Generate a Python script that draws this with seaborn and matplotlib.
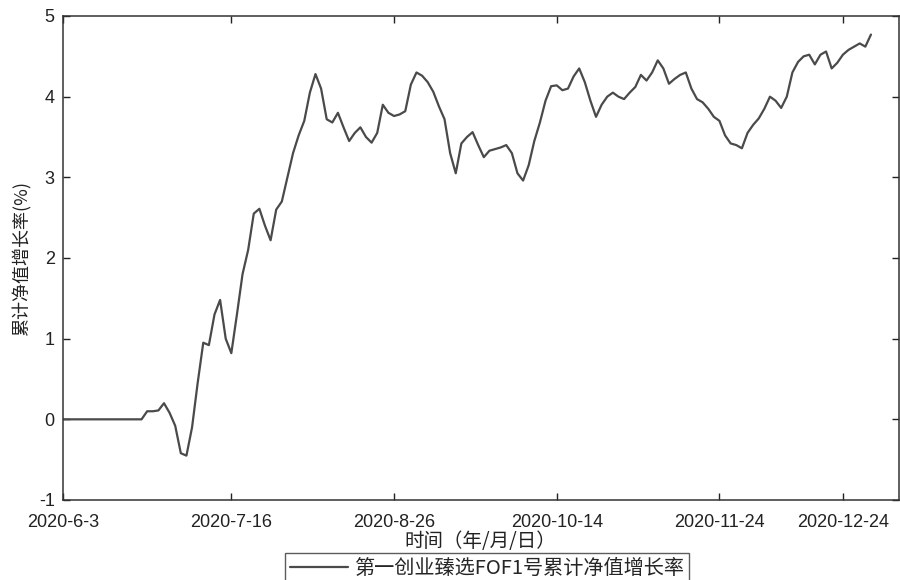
import numpy as np
import pandas as pd
import matplotlib
matplotlib.use("Agg")
import matplotlib.pyplot as plt
import seaborn as sns

# ---- data (cumulative NAV growth, %, one value per trading day) ----
growth = [
    0.00, 0.00, 0.00, 0.00, 0.00, 0.00, 0.00, 0.00, 0.00, 0.00,
    0.00, 0.00, 0.00, 0.00, 0.00, 0.10, 0.10, 0.11, 0.20, 0.08,
    -0.08, -0.42, -0.45, -0.10, 0.45, 0.95, 0.92, 1.30, 1.48, 1.00,
    0.82, 1.30, 1.80, 2.10, 2.55, 2.61, 2.40, 2.22, 2.60, 2.70,
    3.00, 3.30, 3.52, 3.70, 4.05, 4.28, 4.10, 3.72, 3.68, 3.80,
    3.62, 3.45, 3.55, 3.62, 3.50, 3.43, 3.55, 3.90, 3.80, 3.76,
    3.78, 3.82, 4.15, 4.30, 4.26, 4.18, 4.06, 3.88, 3.72, 3.30,
    3.05, 3.42, 3.50, 3.56, 3.40, 3.25, 3.33, 3.35, 3.37, 3.40,
    3.30, 3.05, 2.96, 3.15, 3.45, 3.68, 3.95, 4.13, 4.14, 4.08,
    4.10, 4.25, 4.35, 4.18, 3.95, 3.75, 3.90, 4.00, 4.05, 4.00,
    3.97, 4.05, 4.12, 4.27, 4.20, 4.30, 4.45, 4.35, 4.16, 4.22,
    4.27, 4.30, 4.10, 3.97, 3.93, 3.85, 3.75, 3.70, 3.52, 3.42,
    3.40, 3.36, 3.55, 3.65, 3.73, 3.85, 4.00, 3.95, 3.86, 4.00,
    4.30, 4.43, 4.50, 4.52, 4.40, 4.52, 4.56, 4.35, 4.42, 4.52,
    4.58, 4.62, 4.66, 4.62, 4.77,
]
day_index = list(range(len(growth)))

tick_days = [0, 30, 59, 88, 117, 139]
tick_labels = ["2020-6-3", "2020-7-16", "2020-8-26", "2020-10-14", "2020-11-24", "2020-12-24"]
y_ticks = [-1, 0, 1, 2, 3, 4, 5]

series_name = "第一创业臻选FOF1号累计净值增长率"
x_title = "时间（年/月/日）"
y_title = "累计净值增长率(%)"

df = pd.DataFrame({"day": day_index, "growth": growth})

# ---- style ----
sns.set_theme(style="ticks")
plt.rcParams["font.family"] = ["Liberation Sans", "Noto Sans CJK SC", "DejaVu Sans"]

fig = plt.figure(figsize=(9, 5.8), dpi=100)
ax = fig.add_axes([63 / 900, 1 - 500 / 580, (899 - 63) / 900, (500 - 16) / 580])

sns.lineplot(data=df, x="day", y="growth", ax=ax, color="#4a4a4a",
             linewidth=1.6, label=series_name, legend=False)

ax.set_xlim(0, 149)
ax.set_ylim(-1, 5)
ax.set_xticks(tick_days)
ax.set_xticklabels(tick_labels)
ax.set_yticks(y_ticks)
ax.set_yticklabels([str(v) for v in y_ticks])
ax.tick_params(direction="in", length=5, width=1, top=True, right=True,
               labelsize=13, colors="#222222")
ax.tick_params(axis="x", pad=10)
ax.tick_params(axis="y", pad=6)
for s in ax.spines.values():
    s.set_visible(True)
    s.set_color("#333333")
    s.set_linewidth(1.1)

ax.set_xlabel(x_title, fontsize=14, family=["Noto Sans CJK SC", "DejaVu Sans"],
              color="#222222", va="center")
ax.xaxis.set_label_coords((480 - 63) / (899 - 63), -(541 - 500) / 484)
ax.set_ylabel(y_title, fontsize=13, family=["Noto Sans CJK SC", "DejaVu Sans"],
              color="#222222")
ax.yaxis.set_label_coords(-(63 - 32) / (899 - 63), (500 - 259) / 484)

handles, labels = ax.get_legend_handles_labels()
leg = fig.legend(handles, labels, loc="upper center",
                 bbox_to_anchor=(487 / 900, 1 - 553 / 580),
                 frameon=True, fancybox=False, edgecolor="#333333",
                 prop={"family": ["Noto Sans CJK SC", "DejaVu Sans"], "size": 14.5},
                 handlelength=2.9, handletextpad=0.3, borderpad=0.25,
                 borderaxespad=0)
leg.get_frame().set_linewidth(1.0)

fig.savefig("out.png", dpi=100, facecolor="white")
